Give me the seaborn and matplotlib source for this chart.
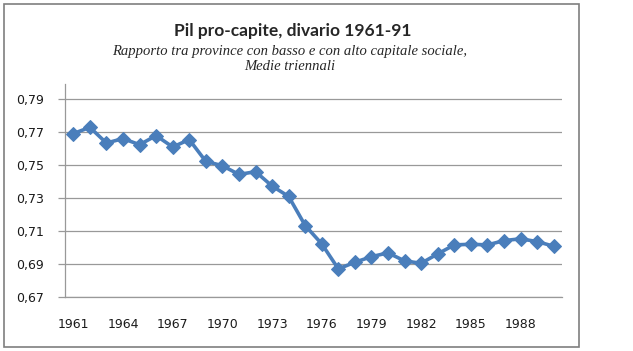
import numpy as np
import pandas as pd
import matplotlib
matplotlib.use("Agg")
import matplotlib.pyplot as plt
import seaborn as sns
from matplotlib.patches import Rectangle
from matplotlib.ticker import FixedLocator, FuncFormatter

# data (three-year moving averages)
years = list(range(1961, 1991))
ratio = [0.7688, 0.7726, 0.7631, 0.7658, 0.7621, 0.7676, 0.7607, 0.7652,
         0.7520, 0.7494, 0.7441, 0.7458, 0.7371, 0.7308, 0.7132, 0.7021,
         0.6870, 0.6910, 0.6944, 0.6967, 0.6918, 0.6904, 0.6961, 0.7015,
         0.7019, 0.7015, 0.7041, 0.7052, 0.7035, 0.7007]
year_labels = list(range(1961, 1991, 3))
y_ticks = [0.67, 0.69, 0.71, 0.73, 0.75, 0.77, 0.79]

df = pd.DataFrame({"anno": years, "rapporto": ratio})

sns.set_style("white")
plt.rcParams["font.family"] = ["DejaVu Sans"]

fig = plt.figure(figsize=(6.33, 3.51), dpi=100)
ax = fig.add_axes([65 / 633, 1 - 297 / 351, (562 - 65) / 633, (297 - 84) / 351])

sns.lineplot(data=df, x="anno", y="rapporto", ax=ax, color="#4A7EBB",
             linewidth=2.6, marker="D", markersize=7.5, markeredgecolor="#4A7EBB")

ax.set_xlim(1960.5, 1990.5)
ax.set_ylim(0.67, 0.7988)
ax.set_xlabel("")
ax.set_ylabel("")

ax.yaxis.set_major_locator(FixedLocator(y_ticks))
ax.yaxis.set_major_formatter(FuncFormatter(lambda v, p: f"{v:.2f}".replace(".", ",")))
ax.grid(axis="y", color="#999999", linewidth=0.9)
ax.grid(axis="x", visible=False)

ax.xaxis.set_major_locator(FixedLocator(year_labels))
ax.xaxis.set_minor_locator(FixedLocator(np.arange(1960.5, 1991, 1)))
ax.tick_params(axis="x", which="major", length=0, pad=15, labelsize=9, colors="#1A1A1A")
ax.tick_params(axis="x", which="minor", length=4, width=0.9, color="#999999", direction="out")
ax.tick_params(axis="y", which="major", length=5, width=0.9, color="#999999", pad=10,
               labelsize=9, labelcolor="#1A1A1A", direction="out", left=True)

for side in ["top", "right"]:
    ax.spines[side].set_visible(False)
for side in ["left", "bottom"]:
    ax.spines[side].set_color("#999999")
    ax.spines[side].set_linewidth(0.9)

fig.text(293 / 633, 1 - 31 / 351, "Pil pro-capite, divario 1961-91", ha="center", va="center",
         fontsize=12.5, fontweight="bold", family="Lato")
fig.text(290 / 633, 1 - 51 / 351, "Rapporto tra province con basso e con alto capitale sociale,",
         ha="center", va="center", fontsize=10.5, style="italic", family="Liberation Serif")
fig.text(290 / 633, 1 - 66 / 351, "Medie triennali", ha="center", va="center",
         fontsize=10.5, style="italic", family="Liberation Serif")

fig.patches.append(Rectangle((4 / 633, 1 - 347 / 351), (579 - 4) / 633, (347 - 4) / 351,
                             transform=fig.transFigure, fill=False, edgecolor="#7F7F7F",
                             linewidth=1.2))

fig.savefig("out.png", dpi=100)
